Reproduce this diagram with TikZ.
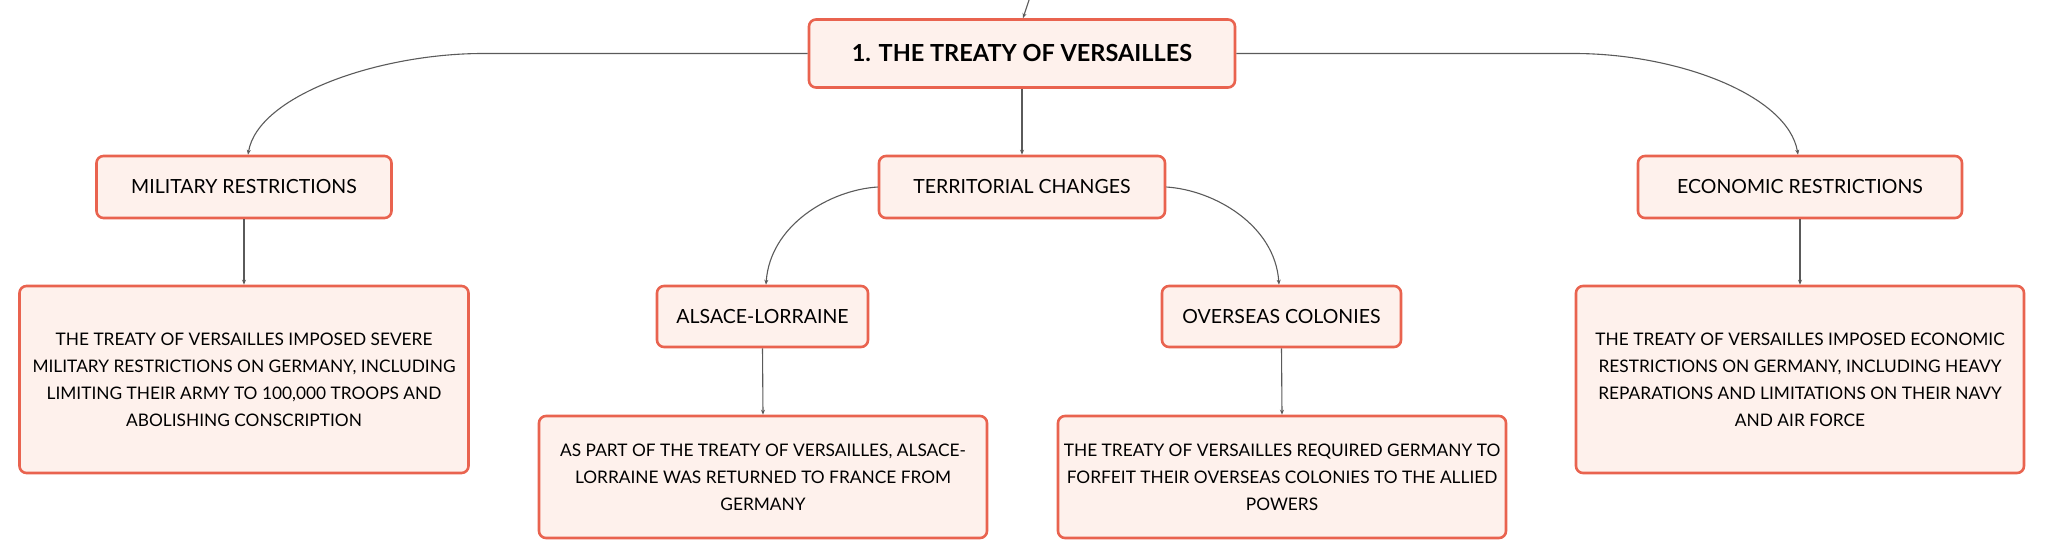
\documentclass[tikz,border=0pt]{standalone}
\usepackage{fontspec}
\setmainfont{Lato}
\usetikzlibrary{arrows.meta}
\definecolor{boxline}{HTML}{E9634F}
\definecolor{boxfill}{HTML}{FEF1EC}
\definecolor{conn}{HTML}{5A5A5A}
\tikzset{
  box/.style={draw=boxline, fill=boxfill, line width=2.6pt, rounded corners=7pt,
    align=center, inner sep=0pt, font=\fontsize{19.5}{27}\selectfont},
  textbox/.style={box, font=\fontsize{17.3}{27}\selectfont},
  title/.style={box, font=\fontsize{23.5}{28}\selectfont\bfseries},
  conn/.style={draw=conn, line width=1.1pt, -{Stealth[length=5pt,width=4pt]}},
}
\begin{document}
\begin{tikzpicture}[x=1pt,y=-1pt]
\useasboundingbox (0,0) rectangle (2046,559);
\node[title, minimum width=426pt, minimum height=68pt] (root) at (1022,53.5) {1. THE TREATY OF VERSAILLES};
\node[box, minimum width=295pt, minimum height=62pt] (mil) at (244,187) {MILITARY RESTRICTIONS};
\node[box, minimum width=286pt, minimum height=62pt] (ter) at (1022,187) {TERRITORIAL CHANGES};
\node[box, minimum width=324pt, minimum height=62pt] (eco) at (1800,187) {ECONOMIC RESTRICTIONS};
\node[textbox, minimum width=449pt, minimum height=187pt] (milt) at (244,379.5) {THE TREATY OF VERSAILLES IMPOSED SEVERE\\MILITARY RESTRICTIONS ON GERMANY, INCLUDING\\LIMITING THEIR ARMY TO 100,000 TROOPS AND\\ABOLISHING CONSCRIPTION};
\node[box, minimum width=211pt, minimum height=61pt] (als) at (762.5,316.5) {ALSACE-LORRAINE};
\node[box, minimum width=239pt, minimum height=61pt] (ovs) at (1281.5,316.5) {OVERSEAS COLONIES};
\node[textbox, minimum width=448pt, minimum height=122pt] (alst) at (763,477) {AS PART OF THE TREATY OF VERSAILLES, ALSACE-\\LORRAINE WAS RETURNED TO FRANCE FROM\\GERMANY};
\node[textbox, minimum width=448pt, minimum height=122pt] (ovst) at (1282,477) {THE TREATY OF VERSAILLES REQUIRED GERMANY TO\\FORFEIT THEIR OVERSEAS COLONIES TO THE ALLIED\\POWERS};
\node[textbox, minimum width=448pt, minimum height=187pt] (ecot) at (1800,379.5) {THE TREATY OF VERSAILLES IMPOSED ECONOMIC\\RESTRICTIONS ON GERMANY, INCLUDING HEAVY\\REPARATIONS AND LIMITATIONS ON THEIR NAVY\\AND AIR FORCE};
% connectors
\coordinate (up) at (1029,0);
\draw[conn] (up) -- ([xshift=1pt]root.north);
\draw[conn] (root.west) -- (483,53.5) .. controls (380,53.5) and (258,95) .. ([xshift=4pt]mil.north);
\draw[conn] (root.east) -- (1574,53.5) .. controls (1677,53.5) and (1788,95) .. ([xshift=-2pt]eco.north);
\draw[conn] (root.south) -- (ter.north);
\draw[conn] (ter.west) .. controls (830,190) and (770,225) .. ([xshift=3.5pt]als.north);
\draw[conn] (ter.east) .. controls (1214,190) and (1275,225) .. ([xshift=-2.5pt]ovs.north);
\draw[conn] (mil.south) -- (milt.north);
\draw[conn] (eco.south) -- (ecot.north);
\draw[conn] (als.south) -- (alst.north);
\draw[conn] (ovs.south) -- (ovst.north);
\end{tikzpicture}
\end{document}
